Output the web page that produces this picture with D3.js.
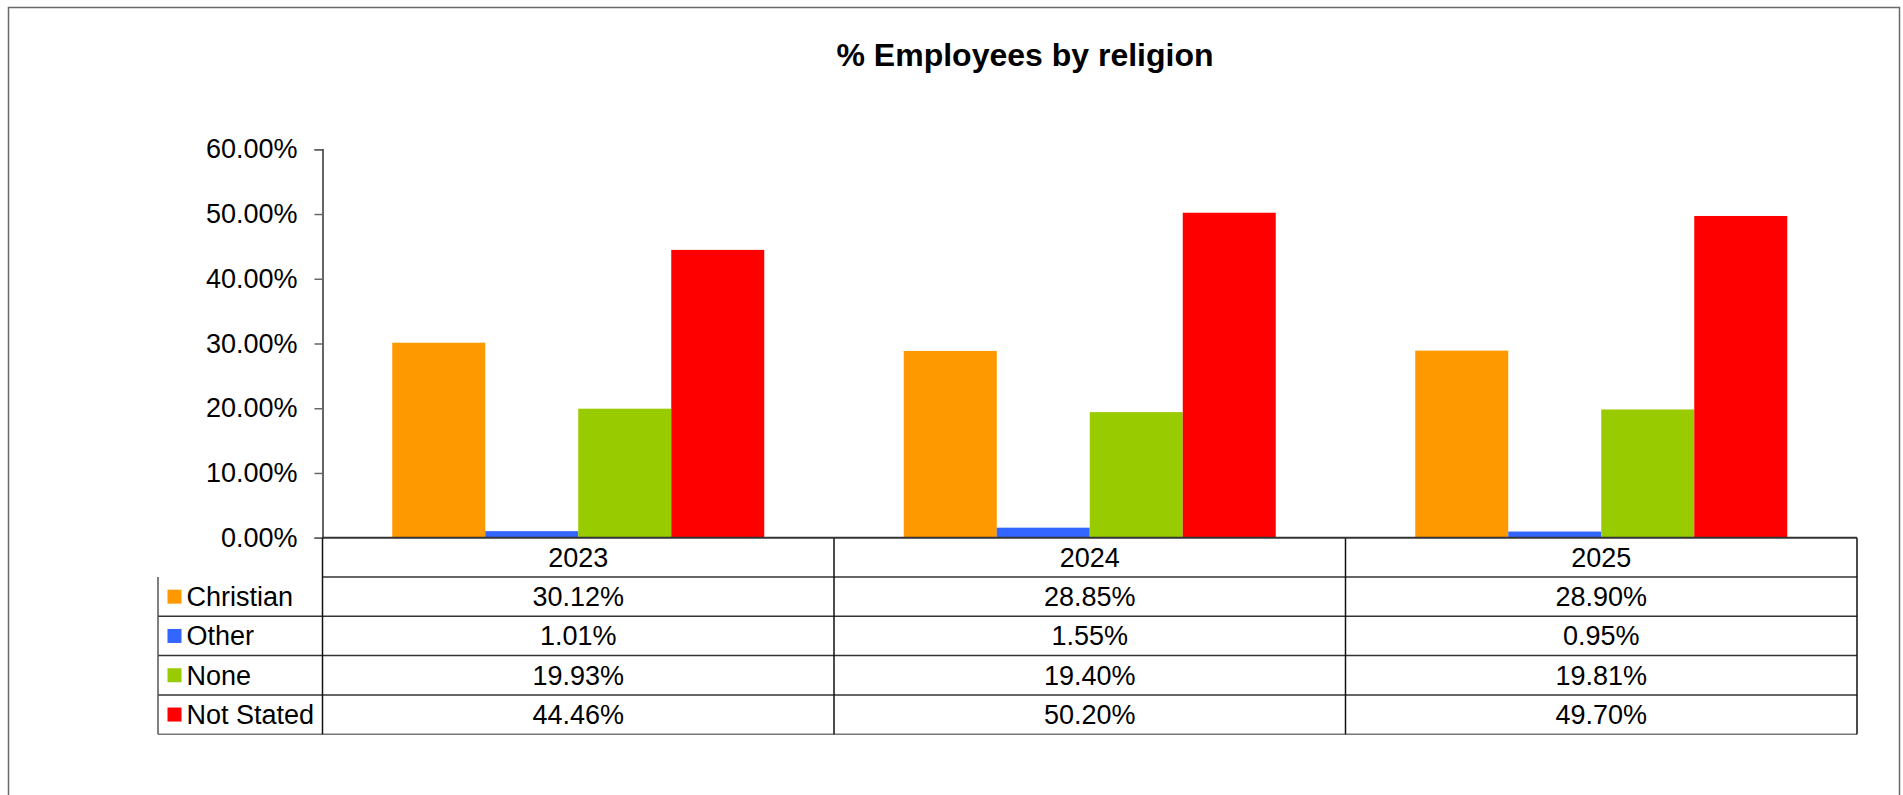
<!DOCTYPE html>
<html>
<head>
<meta charset="utf-8">
<script src="https://cdn.jsdelivr.net/npm/d3@7/dist/d3.min.js"></script>
<style>
  html, body { margin: 0; padding: 0; background: #fff; }
  svg { display: block; font-family: Arial, "Liberation Sans", sans-serif; }
</style>
</head>
<body>
<svg id="chart" width="1903" height="795"></svg>
<script>
const title = "% Employees by religion";
const years = ["2023", "2024", "2025"];
const seriesNames = ["Christian", "Other", "None", "Not Stated"];
const seriesColors = ["#FF9900", "#3366FF", "#99CC00", "#FF0000"];
const christian = [30.12, 28.85, 28.90];
const other = [1.01, 1.55, 0.95];
const none = [19.93, 19.40, 19.81];
const notStated = [44.46, 50.20, 49.70];
const yTicks = [0, 10, 20, 30, 40, 50, 60];

const seriesValues = [christian, other, none, notStated];

const svg = d3.select("#chart");

// outer frame
svg.append("rect")
  .attr("x", 8.5).attr("y", 7.5)
  .attr("width", 1891).attr("height", 800)
  .attr("fill", "#fff").attr("stroke", "#6a6a6a").attr("stroke-width", 1.5);

// title
svg.append("text")
  .attr("x", 1025).attr("y", 66)
  .attr("text-anchor", "middle")
  .attr("font-size", 32).attr("font-weight", "bold")
  .attr("fill", "#000")
  .text(title);

const plotLeft = 322.5, plotRight = 1857, yTop = 149.3, yBase = 537.7;
const tableLeft = 158;
const rowH = 39.3;

const x0 = d3.scaleBand().domain(years).range([plotLeft, plotRight]).paddingInner(0).paddingOuter(0);
const bw = x0.bandwidth();
const x1 = d3.scaleBand().domain(seriesNames).range([bw * 1.5 / 11, bw * 9.5 / 11]).padding(0);
const y = d3.scaleLinear().domain([0, 60]).range([yBase, yTop]);

// bars
const groups = svg.append("g").selectAll("g")
  .data(years)
  .join("g")
  .attr("transform", d => `translate(${x0(d)},0)`);

groups.selectAll("rect")
  .data((yr, i) => seriesNames.map((s, k) => ({ s, k, v: seriesValues[k][i] })))
  .join("rect")
  .attr("x", d => x1(d.s))
  .attr("width", x1.bandwidth())
  .attr("y", d => y(d.v))
  .attr("height", d => y(0) - y(d.v))
  .attr("fill", d => seriesColors[d.k]);

// y axis
const yAxis = d3.axisLeft(y)
  .tickValues(yTicks)
  .tickFormat(d => d.toFixed(2) + "%")
  .tickSize(8)
  .tickPadding(17);

const ax = svg.append("g")
  .attr("transform", `translate(${plotLeft},0)`)
  .call(yAxis);
ax.select(".domain").attr("stroke", "#333").attr("stroke-width", 1.5);
ax.selectAll(".tick line").attr("stroke", "#666").attr("stroke-width", 1.5);
ax.selectAll(".tick text")
  .attr("font-size", 27)
  .attr("font-family", "Arial, 'Liberation Sans', sans-serif")
  .attr("fill", "#000");

// table
const table = svg.append("g");
const lineColor = "#333";
const headerTop = yBase, headerBottom = yBase + rowH;
const tableBottom = headerBottom + rowH * seriesNames.length;

// header row lines
table.append("line")
  .attr("x1", plotLeft).attr("x2", plotRight)
  .attr("y1", headerBottom).attr("y2", headerBottom)
  .attr("stroke", lineColor).attr("stroke-width", 1.5);
// row lines
seriesNames.forEach((s, k) => {
  const yy = headerBottom + rowH * (k + 1);
  table.append("line")
    .attr("x1", tableLeft).attr("x2", plotRight)
    .attr("y1", yy).attr("y2", yy)
    .attr("stroke", k === seriesNames.length - 1 ? "#777" : lineColor).attr("stroke-width", 1.5);
});
// verticals
table.append("line")
  .attr("x1", tableLeft).attr("x2", tableLeft)
  .attr("y1", headerBottom).attr("y2", tableBottom)
  .attr("stroke", "#555").attr("stroke-width", 1.5);
table.append("line")
  .attr("x1", plotLeft).attr("x2", plotLeft)
  .attr("y1", yBase).attr("y2", tableBottom)
  .attr("stroke", "#111").attr("stroke-width", 1.5);
years.forEach(yr => {
  const xx = x0(yr) + bw;
  table.append("line")
    .attr("x1", xx).attr("x2", xx)
    .attr("y1", yBase).attr("y2", tableBottom)
    .attr("stroke", "#111").attr("stroke-width", 1.5);
});

// baseline (zero line)
svg.append("line")
  .attr("x1", plotLeft).attr("x2", plotRight)
  .attr("y1", y(0)).attr("y2", y(0))
  .attr("stroke", "#333").attr("stroke-width", 2);

// header texts
table.selectAll("text.hdr")
  .data(years)
  .join("text")
  .attr("class", "hdr")
  .attr("x", d => x0(d) + bw / 2)
  .attr("y", headerTop + rowH / 2 + 9.5)
  .attr("text-anchor", "middle")
  .attr("font-size", 27)
  .attr("fill", "#000")
  .text(d => d);

// rows
seriesNames.forEach((s, k) => {
  const top = headerBottom + rowH * k;
  table.append("rect")
    .attr("x", 167.5).attr("y", top + rowH / 2 - 7)
    .attr("width", 14).attr("height", 14)
    .attr("fill", seriesColors[k]);
  table.append("text")
    .attr("x", 186.5).attr("y", top + rowH / 2 + 9.5)
    .attr("font-size", 27).attr("fill", "#000")
    .text(s);
  years.forEach((yr, i) => {
    table.append("text")
      .attr("x", x0(yr) + bw / 2)
      .attr("y", top + rowH / 2 + 9.5)
      .attr("text-anchor", "middle")
      .attr("font-size", 27).attr("fill", "#000")
      .text(seriesValues[k][i].toFixed(2) + "%");
  });
});
</script>
</body>
</html>
